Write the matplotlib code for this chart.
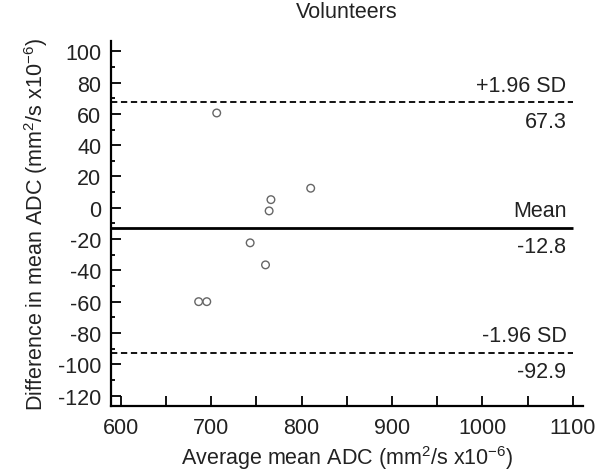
import matplotlib.pyplot as plt
from matplotlib.ticker import MultipleLocator

plt.rcParams['font.family'] = ['Liberation Sans', 'DejaVu Sans']
plt.rcParams['mathtext.default'] = 'regular'
plt.rcParams['axes.unicode_minus'] = False

# Bland-Altman data (volunteers)
avg_adc = [686, 695, 706, 743, 760, 764, 766, 810]
diff_adc = [-60, -60, 60.6, -22.4, -36.5, -2, 5.2, 12.5]

mean_diff = -12.8
upper_loa = 67.3
lower_loa = -92.9

TXT = '#222222'
FS = 15.5

fig = plt.figure(figsize=(5.98, 4.77), dpi=100)
ax = fig.add_axes([0.1856, 0.1474, 0.7888, 0.7652])

ax.scatter(avg_adc, diff_adc, s=30, facecolors='none', edgecolors='#666666', linewidths=1.0, zorder=3)

x0, x1 = 589, 1111
ax.hlines(upper_loa, x0, 1100, colors='black', linestyles=(0, (3.5, 2)), linewidth=1.3)
ax.hlines(lower_loa, x0, 1100, colors='black', linestyles=(0, (3.5, 2)), linewidth=1.3)
ax.hlines(mean_diff, x0, 1100, colors='black', linewidth=2.0)

for yv, lab in [(upper_loa, '+1.96 SD'), (mean_diff, 'Mean'), (lower_loa, '-1.96 SD')]:
    ax.annotate(lab, xy=(1093, yv), xytext=(0, 5), textcoords='offset points',
                ha='right', va='bottom', fontsize=FS, color=TXT)
    ax.annotate(f'{yv:.1f}', xy=(1093, yv), xytext=(0, -6), textcoords='offset points',
                ha='right', va='top', fontsize=FS, color=TXT)

ax.set_xlim(x0, x1)
ax.set_ylim(-126.5, 106.8)
ax.set_xticks([600, 700, 800, 900, 1000, 1100])
ax.xaxis.set_minor_locator(MultipleLocator(50))
ax.set_yticks(range(-120, 101, 20))
ax.yaxis.set_minor_locator(MultipleLocator(10))

for s in ['top', 'right']:
    ax.spines[s].set_visible(False)
for s in ['left', 'bottom']:
    ax.spines[s].set_linewidth(1.6)

ax.tick_params(axis='both', which='both', direction='in', width=1.3, labelsize=FS, labelcolor=TXT)
ax.tick_params(axis='x', which='major', length=7, pad=8)
ax.tick_params(axis='x', which='minor', length=7)
ax.tick_params(axis='y', which='major', length=7, pad=7)
ax.tick_params(axis='y', which='minor', length=3)

ax.set_xlabel('Average mean ADC (mm$^{2}$/s x10$^{-6}$)', fontsize=FS, color=TXT, labelpad=4)
ax.set_ylabel('Difference in mean ADC (mm$^{2}$/s x10$^{-6}$)', fontsize=FS, color=TXT, labelpad=6)
ax.set_title('Volunteers', fontsize=FS, color=TXT, pad=17)

plt.savefig('out.png', dpi=100)
